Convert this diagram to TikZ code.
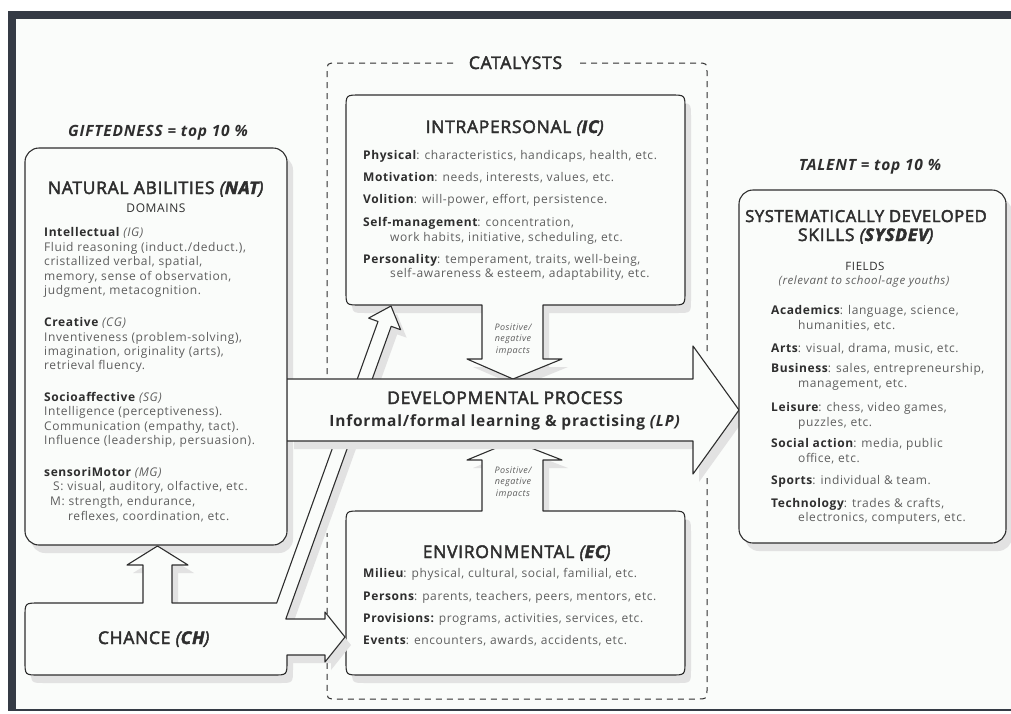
\documentclass[tikz,border=0pt]{standalone}
\usepackage{fontspec}
\setmainfont{Open Sans}[LetterSpace=5]
\newfontfamily\TitleFont{Open Sans}[LetterSpace=4]
\definecolor{ink}{HTML}{2E2E2E}
\definecolor{txt}{HTML}{5E5E5E}
\definecolor{frame}{HTML}{353B45}
\definecolor{paper}{HTML}{FAFCFA}
\definecolor{shade}{HTML}{E2E2E2}
\newcommand\Hd[1]{{\color{ink}\bfseries #1}}
\newcommand\Heavy[1]{\special{pdf:literal direct 2 Tr 0.45 w}#1\special{pdf:literal direct 0 Tr}}
\newcommand\FTitle{\TitleFont\fontsize{17.5}{20}\selectfont}
\newcommand\FBody{\fontsize{12}{14}\selectfont}
\newcommand\FSmall{\fontsize{9}{10}\selectfont}
\newcommand\FLabel{\fontsize{15.5}{17}\selectfont}
\begin{document}
\begin{tikzpicture}[x=1pt,y=-1pt,
  line/.style={draw=ink, line width=1.1pt, line join=round},
  drop/.style={preaction={fill=shade, draw=none, transform canvas={shift={(6pt,-8pt)}}}},
  bl/.style={anchor=base west, inner sep=0pt, font=\FBody, text=txt},
  bc/.style={anchor=base, inner sep=0pt},
  ttl/.style={anchor=base, inner sep=0pt, font=\FTitle, text=ink},
  small/.style={anchor=base, inner sep=0pt, font=\FSmall\itshape, text=txt},
  dsh/.style={draw=ink, line width=1pt, dash pattern=on 6pt off 5pt}]
\useasboundingbox (0,0) rectangle (1011,713);
% frame
\fill[white] (0,0) rectangle (1011,713);
\fill[paper] (16,19) rectangle (1011,709);
\fill[frame] (8,11) rectangle (1011,19);
\fill[frame] (8,11) rectangle (16,711);
\fill[frame] (8,709) rectangle (1011,711);
% catalysts dashed frame
\draw[dsh] (453,63) -- (337,63) .. controls (327,63) .. (327,73) -- (327,379);
\draw[dsh] (580,63) -- (697,63) .. controls (707,63) .. (707,73) -- (707,355);
\draw[dsh] (707,478) -- (707,689) .. controls (707,699) .. (697,699) -- (337,699) .. controls (327,699) .. (327,689) -- (327,533);
\node[ttl] (cat) at (515.5,69) {\Heavy{CATALYSTS}};
% natural abilities box
\path[line, fill=paper, drop, rounded corners=14pt] (25,148) rectangle (287,545);
% intrapersonal with down arrow
\path[line, fill=paper, drop] (346,109) .. controls (346,95) .. (360,95) -- (671,95) .. controls (685,95) .. (685,109) -- (685,291) .. controls (685,305) .. (671,305) -- (543,305) -- (543,359) -- (562,359) -- (513,379) -- (467,359) -- (482,359) -- (482,305) -- (360,305) .. controls (346,305) .. (346,291) -- cycle;
% environmental with up arrow
\path[line, fill=paper, drop] (346,525) .. controls (346,511) .. (360,511) -- (482,511) -- (482,460) -- (467,460) -- (513,441) -- (562,460) -- (543,460) -- (543,511) -- (671,511) .. controls (685,511) .. (685,525) -- (685,661) .. controls (685,675) .. (671,675) -- (360,675) .. controls (346,675) .. (346,661) -- cycle;
% chance with its three arrows
\path[line, fill=paper, drop] (25,617) .. controls (25,603) .. (39,603) -- (143,603) -- (143,565) -- (127,565) -- (157.5,546) -- (188,565) -- (172,565) -- (172,603) -- (276.7,603) -- (378.0,321.5) -- (368.6,318.1) -- (391,306) -- (400.6,329.7) -- (391.2,326.3) -- (285.8,619) -- (325,619) -- (325,612) -- (345,637) -- (325,662) -- (325,655) -- (287,655) -- (287,661) .. controls (287,675) .. (273,675) -- (39,675) .. controls (25,675) .. (25,661) -- cycle;
% developmental process band
\path[fill=paper, drop] (288,379) -- (693,379) -- (693,346) -- (739,410) -- (693,474) -- (693,441) -- (288,441) -- cycle;
\draw[line] (287,379) -- (693,379) -- (693,346) -- (739,410) -- (693,474) -- (693,441) -- (287,441);
% sysdev box
\path[line, fill=paper, drop, rounded corners=14pt] (739,190) rectangle (1006,543);

% ---- texts: NAT
\node[bc, font=\FLabel\bfseries\itshape, text=ink] (gift) at (158,136) {GIFTEDNESS = top 10 \%};
\node[ttl] (natT) at (156,194) {\Heavy{NATURAL ABILITIES \textit{(\textbf{NAT})}}};
\node[bc, font=\fontsize{12}{14}\selectfont, text=ink] (dom) at (156,212.5) {DOMAINS};
\node[bl] (n1) at (44,236) {\Hd{Intellectual} \textit{(IG)}};
\node[bl] (n2) at (44,251) {Fluid reasoning (induct./deduct.),};
\node[bl] (n3) at (44,265.5) {cristallized verbal, spatial,};
\node[bl] (n4) at (44,280) {memory, sense of observation,};
\node[bl] (n5) at (44,294.5) {judgment, metacognition.};
\node[bl] (n6) at (44,326) {\Hd{Creative} \textit{(CG)}};
\node[bl] (n7) at (44,341) {Inventiveness (problem-solving),};
\node[bl] (n8) at (44,355) {imagination, originality (arts),};
\node[bl] (n9) at (44,369.5) {retrieval fluency.};
\node[bl] (n10) at (44,401) {\Hd{Socioaffective} \textit{(SG)}};
\node[bl] (n11) at (44,415) {Intelligence (perceptiveness).};
\node[bl] (n12) at (44,430) {Communication (empathy, tact).};
\node[bl] (n13) at (44,444.5) {Influence (leadership, persuasion).};
\node[bl] (n14) at (44,476) {\Hd{sensoriMotor} \textit{(MG)}};
\node[bl] (n15) at (53,490.5) {S: visual, auditory, olfactive, etc.};
\node[bl] (n16) at (50,505) {M: strength, endurance,};
\node[bl] (n17) at (68,520) {reflexes, coordination, etc.};
% ---- chance
\node[ttl] (chT) at (154,644) {\Heavy{CHANCE \textit{(\textbf{CH})}}};
% ---- IC
\node[ttl] (icT) at (515,133) {\Heavy{INTRAPERSONAL \textit{(\textbf{IC})}}};
\node[bl] (i1) at (363,159) {\Hd{Physical}: characteristics, handicaps, health, etc.};
\node[bl] (i2) at (363,181) {\Hd{Motivation}: needs, interests, values, etc.};
\node[bl] (i3) at (363,203) {\Hd{Volition}: will-power, effort, persistence.};
\node[bl] (i4) at (363,226) {\Hd{Self-management}: concentration,};
\node[bl] (i5) at (390,241) {work habits, initiative, scheduling, etc.};
\node[bl] (i6) at (363,263) {\Hd{Personality}: temperament, traits, well-being,};
\node[bl] (i7) at (390,277) {self-awareness \& esteem, adaptability, etc.};
\node[small] (pa1) at (513,330) {Positive/};
\node[small] (pa2) at (513,341.5) {negative};
\node[small] (pa3) at (513,353) {impacts};
% ---- band
\node[ttl] (dpT) at (505,404) {\Heavy{DEVELOPMENTAL PROCESS}};
\node[bc, font=\fontsize{15.5}{18}\selectfont\bfseries, text=ink] (lp) at (505,426) {Informal/formal learning \& practising \textit{(LP)}};
% ---- EC
\node[small] (pb1) at (513,473) {Positive/};
\node[small] (pb2) at (513,484.5) {negative};
\node[small] (pb3) at (513,496) {impacts};
\node[ttl] (ecT) at (517,558) {\Heavy{ENVIRONMENTAL \textit{(\textbf{EC})}}};
\node[bl] (e1) at (363,577) {\Hd{Milieu}: physical, cultural, social, familial, etc.};
\node[bl] (e2) at (363,600) {\Hd{Persons}: parents, teachers, peers, mentors, etc.};
\node[bl] (e3) at (363,622) {\Hd{Provisions:} programs, activities, services, etc.};
\node[bl] (e4) at (363,644) {\Hd{Events}: encounters, awards, accidents, etc.};
% ---- SYSDEV
\node[bc, font=\FLabel\bfseries\itshape, text=ink] (tal) at (870,170) {TALENT = top 10 \%};
\node[ttl, font=\TitleFont\fontsize{16.5}{20}\selectfont] (sd1) at (866,222) {\Heavy{SYSTEMATICALLY DEVELOPED}};
\node[ttl] (sd2) at (866,241) {\Heavy{SKILLS \textit{(\textbf{SYSDEV})}}};
\node[bc, font=\fontsize{11.5}{14}\selectfont, text=ink] (fld) at (865,270) {FIELDS};
\node[bc, font=\fontsize{11.5}{14}\selectfont\itshape, text=txt] (rel) at (864,284) {(relevant to school-age youths)};
\node[bl] (s1) at (771,314) {\Hd{Academics}: language, science,};
\node[bl] (s2) at (798,329) {humanities, etc.};
\node[bl] (s3) at (771,352) {\Hd{Arts}: visual, drama, music, etc.};
\node[bl] (s4) at (771,372) {\Hd{Business}: sales, entrepreneurship,};
\node[bl] (s5) at (798,387) {management, etc.};
\node[bl] (s6) at (771,411) {\Hd{Leisure}: chess, video games,};
\node[bl] (s7) at (798,426) {puzzles, etc.};
\node[bl] (s8) at (771,447) {\Hd{Social action}: media, public};
\node[bl] (s9) at (798,462) {office, etc.};
\node[bl] (s10) at (771,484) {\Hd{Sports}: individual \& team.};
\node[bl] (s11) at (771,507) {\Hd{Technology}: trades \& crafts,};
\node[bl] (s12) at (798,521) {electronics, computers, etc.};
\end{tikzpicture}
\end{document}
